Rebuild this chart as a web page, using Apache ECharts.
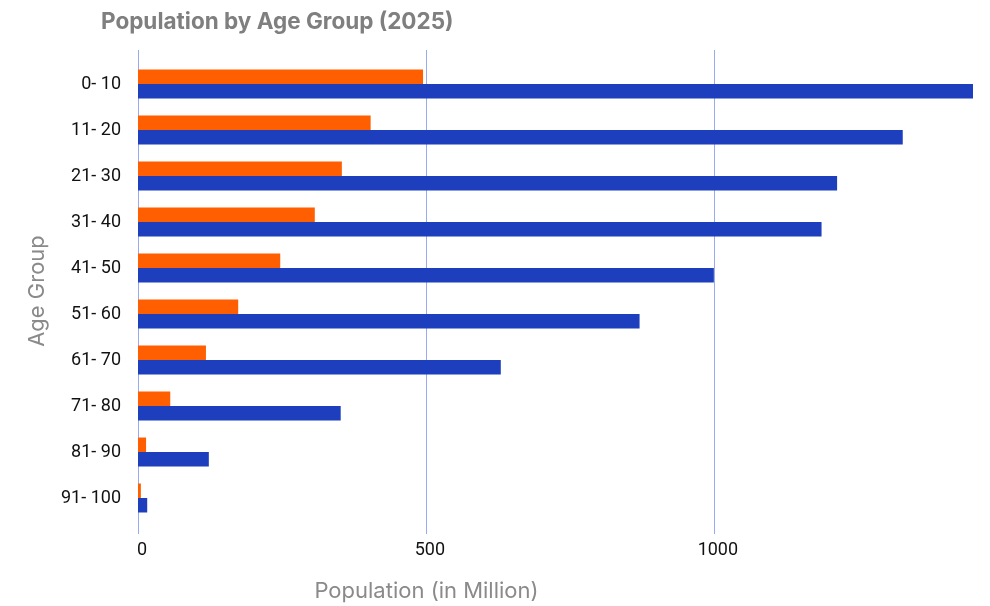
<!DOCTYPE html>
<html><head><meta charset="utf-8">
<script src="https://cdn.jsdelivr.net/npm/echarts@6/dist/echarts.min.js"></script>
<style>html,body{margin:0;padding:0;background:#fff}#c{width:990px;height:606px}</style>
</head><body><div id="c"></div>
<script>
const categories = ['0- 10','11- 20','21- 30','31- 40','41- 50','51- 60','61- 70','71- 80','81- 90','91- 100'];
const orangeValues = [495, 404, 354, 307, 247, 174, 118, 56, 14, 5];
const blueValues = [1450, 1328, 1214, 1187, 1000, 871, 630, 352, 123, 16];
const xTicks = [0, 500, 1000];

const chart = echarts.init(document.getElementById('c'), null, {renderer:'canvas'});
chart.setOption({
  animation: false,
  title: {
    text: 'Population by Age Group (2025)', left: 96, top: 6,
    textStyle: {fontFamily: 'Inter', fontWeight: 'bold', fontSize: 22.5, color: '#7f7f7f'}
  },
  grid: [
    {left: 138, right: 17, top: 61, height: 460, outerBoundsMode: 'none', containLabel: false},
    {left: 138, right: 17, top: 50, bottom: 72, outerBoundsMode: 'none', containLabel: false}
  ],
  xAxis: [
    {gridIndex: 0, type: 'value', min: 0, max: 1450, interval: 500, show: false},
    {gridIndex: 1, type: 'value', min: 0, max: 1450, interval: 500,
     axisLine: {show: false}, axisTick: {show: false},
     splitLine: {show: true, showMaxLine: false, lineStyle: {color: '#9aaaee', width: 1}},
     axisLabel: {margin: 7, color: '#111', fontSize: 18, fontFamily: 'Roboto', padding: [0, 0, 0, 8],
       formatter: v => xTicks.includes(v) ? String(v) : ''},
     name: 'Population (in Million)', nameLocation: 'middle', nameGap: 46,
     nameTextStyle: {fontFamily: 'Inter', fontSize: 22, color: '#8a8a8a', padding: [0, 258, 0, 0]}}
  ],
  yAxis: [
    {gridIndex: 0, type: 'category', data: categories, inverse: true,
     axisLine: {show: false}, axisTick: {show: false}, splitLine: {show: false},
     axisLabel: {margin: 17, color: '#111', fontSize: 18, fontFamily: 'Roboto', padding: [3, 0, 0, 0]},
     name: 'Age Group', nameLocation: 'middle', nameRotate: 90, nameGap: 90,
     nameTextStyle: {fontFamily: 'Inter', fontSize: 22, color: '#8a8a8a'}},
    {gridIndex: 1, type: 'value', show: false}
  ],
  series: [
    {type: 'bar', name: 'Female', xAxisIndex: 0, yAxisIndex: 0, data: orangeValues,
     itemStyle: {color: '#ff5f00'}, barGap: '0%', barCategoryGap: '37%'},
    {type: 'bar', name: 'Male', xAxisIndex: 0, yAxisIndex: 0, data: blueValues,
     itemStyle: {color: '#1d3fbd'}, barGap: '0%', barCategoryGap: '37%'}
  ]
});
</script></body></html>
